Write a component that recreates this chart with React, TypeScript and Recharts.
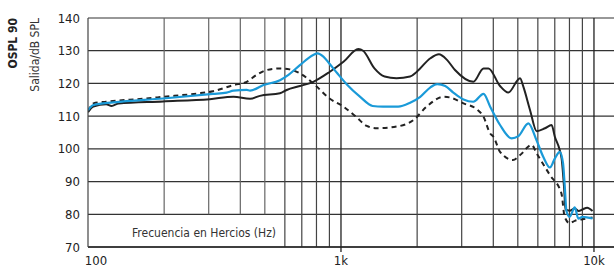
import React from 'react';
import { LineChart, Line, XAxis, YAxis, CartesianGrid, ReferenceLine } from 'recharts';

// frequency axis / level axis
const xTicks = [100, 1000, 10000];
const yTicks = [70, 80, 90, 100, 110, 120, 130, 140];
const gridLow = [200, 300, 400, 500];
const gridFull = [600, 700, 800, 900, 2000, 3000, 4000, 5000, 6000, 7000, 8000, 9000];

// black solid curve
const solidFreq = [100, 105, 118, 124, 132, 198, 303, 376, 437, 478, 574, 610, 688, 777, 901, 1023, 1171, 1223, 1356, 1488, 1657, 1876, 1995, 2257, 2438, 2624, 2823, 3335, 3660, 3829, 4253, 4584, 5104, 5258, 5587, 5936, 6405, 6800, 7004, 7324, 7450, 7620, 7720, 8010, 8400, 8700, 9015, 9400, 9870];
const solidSpl = [111.2, 112.9, 113.6, 113.1, 113.9, 114.5, 115.2, 115.9, 115.3, 116.2, 117.0, 118.0, 119.2, 120.5, 123.5, 126.6, 130.5, 130.0, 124.6, 122.1, 121.6, 122.1, 123.6, 127.7, 128.9, 127.2, 124.1, 120.5, 124.6, 124.6, 119.2, 117.2, 121.6, 119.0, 111.9, 105.4, 106.3, 107.3, 103.7, 99.6, 97.0, 88.0, 81.5, 81.1, 81.8, 81.0, 81.5, 82.0, 81.0];

// blue curve
const blueFreq = [100, 105, 126, 198, 312, 353, 376, 424, 437, 494, 574, 620, 688, 777, 808, 852, 901, 967, 1055, 1191, 1334, 1465, 1683, 1876, 2058, 2257, 2401, 2583, 2780, 3049, 3335, 3660, 3888, 4253, 4725, 5027, 5504, 5936, 6308, 6698, 7000, 7324, 7546, 7660, 7784, 8010, 8400, 8672, 9015, 9870];
const blueSpl = [111.8, 113.4, 114.2, 115.4, 116.8, 117.2, 117.8, 118.0, 117.8, 119.5, 121.0, 122.6, 125.6, 128.7, 129.2, 128.2, 126.0, 123.1, 119.7, 115.9, 113.1, 112.9, 112.9, 114.1, 115.9, 118.8, 119.8, 119.2, 117.2, 115.1, 114.4, 116.8, 112.9, 107.3, 103.2, 103.9, 107.8, 102.5, 97.5, 94.3, 97.0, 99.1, 95.6, 89.0, 81.0, 79.2, 82.1, 78.7, 79.2, 78.7];

// dashed curve
const dashFreq = [100, 105, 118, 170, 198, 269, 312, 376, 424, 464, 509, 574, 627, 688, 777, 901, 1023, 1148, 1264, 1385, 1657, 1934, 2181, 2545, 2700, 3049, 3441, 3660, 3888, 4008, 4253, 4784, 5104, 5672, 5936, 6698, 7435, 7660, 8010, 8400, 9015, 9870];
const dashSpl = [111.5, 113.9, 114.4, 115.4, 115.9, 116.9, 117.6, 119.5, 120.5, 122.6, 124.1, 124.6, 124.3, 123.1, 120.0, 115.4, 112.9, 109.8, 107.0, 106.3, 106.8, 108.8, 112.9, 115.9, 115.7, 113.9, 112.1, 109.8, 104.7, 103.7, 99.1, 96.6, 98.1, 101.2, 98.6, 92.0, 86.4, 79.2, 77.3, 78.0, 78.5, 79.0];

const toRows = (f: number[], v: number[]) => f.map((hz, i) => ({ hz, spl: v[i] }));

const font = "'Liberation Sans Narrow', 'DejaVu Sans Condensed', sans-serif";

const XTick = (props: any) => {
  const { x, y, payload } = props;
  const v = payload.value;
  const label = v === 100 ? '100' : v === 1000 ? '1k' : '10k';
  const dx = v === 100 ? 8 : 0;
  return (
    <g>
      {v !== 100 && <line x1={x} x2={x} y1={y} y2={y + 5} stroke="#222" strokeWidth={1.3} />}
      <text x={x + dx} y={y + 18} textAnchor="middle" fill="#222" fontSize={13} fontFamily={font}>
        {label}
      </text>
    </g>
  );
};

export default function App() {
  return (
    <div style={{ position: 'absolute', left: 0, top: 0, width: 614, height: 268, background: '#fff' }}>
      <LineChart width={614} height={268} margin={{ top: 18, right: 0, bottom: 0, left: 0 }}>
        <CartesianGrid vertical={false} stroke="#333" strokeWidth={1.2} />
        <XAxis
          dataKey="hz"
          type="number"
          scale="log"
          domain={[100, 12000]}
          allowDataOverflow
          ticks={xTicks}
          height={21}
          tickLine={false}
          tickSize={0}
          tickMargin={0}
          axisLine={{ stroke: '#222', strokeWidth: 1.3 }}
          tick={<XTick />}
        />
        <YAxis
          type="number"
          domain={[70, 140]}
          ticks={yTicks}
          width={88}
          tickLine={false}
          axisLine={{ stroke: '#444', strokeWidth: 1.2 }}
          tick={{ fill: '#222', fontSize: 13, fontFamily: font }}
        />
        {gridLow.map((f) => (
          <ReferenceLine key={f} segment={[{ x: f, y: 80 }, { x: f, y: 140 }]} stroke="#666" strokeWidth={1.2} />
        ))}
        {gridFull.map((f) => (
          <ReferenceLine key={f} x={f} stroke="#444" strokeWidth={1.2} />
        ))}
        <ReferenceLine x={1000} stroke="#222" strokeWidth={1.3} />
        <ReferenceLine x={10000} stroke="#222" strokeWidth={1.3} />
        <Line data={toRows(dashFreq, dashSpl)} dataKey="spl" type="monotone" stroke="#222" strokeWidth={2} strokeDasharray="5 4" dot={false} isAnimationActive={false} />
        <Line data={toRows(solidFreq, solidSpl)} dataKey="spl" type="monotone" stroke="#222" strokeWidth={2} dot={false} isAnimationActive={false} />
        <Line data={toRows(blueFreq, blueSpl)} dataKey="spl" type="monotone" stroke="#1a9ad8" strokeWidth={2.2} dot={false} isAnimationActive={false} />
      </LineChart>
      <svg width={60} height={268} style={{ position: 'absolute', left: 0, top: 0 }}>
        <text transform="translate(12.5,18) rotate(-90)" textAnchor="end" dominantBaseline="central" fontSize={12} fontWeight="bold" fill="#222" fontFamily={font}>
          OSPL 90
        </text>
        <text transform="translate(35,18) rotate(-90)" textAnchor="end" dominantBaseline="central" fontSize={12} fill="#333" fontFamily={font}>
          Salida/dB SPL
        </text>
      </svg>
      <div style={{ position: 'absolute', left: 132, top: 224, fontSize: 12, color: '#333', fontFamily: font, whiteSpace: 'nowrap', lineHeight: '18px' }}>
        Frecuencia en Hercios (Hz)
      </div>
    </div>
  );
}
